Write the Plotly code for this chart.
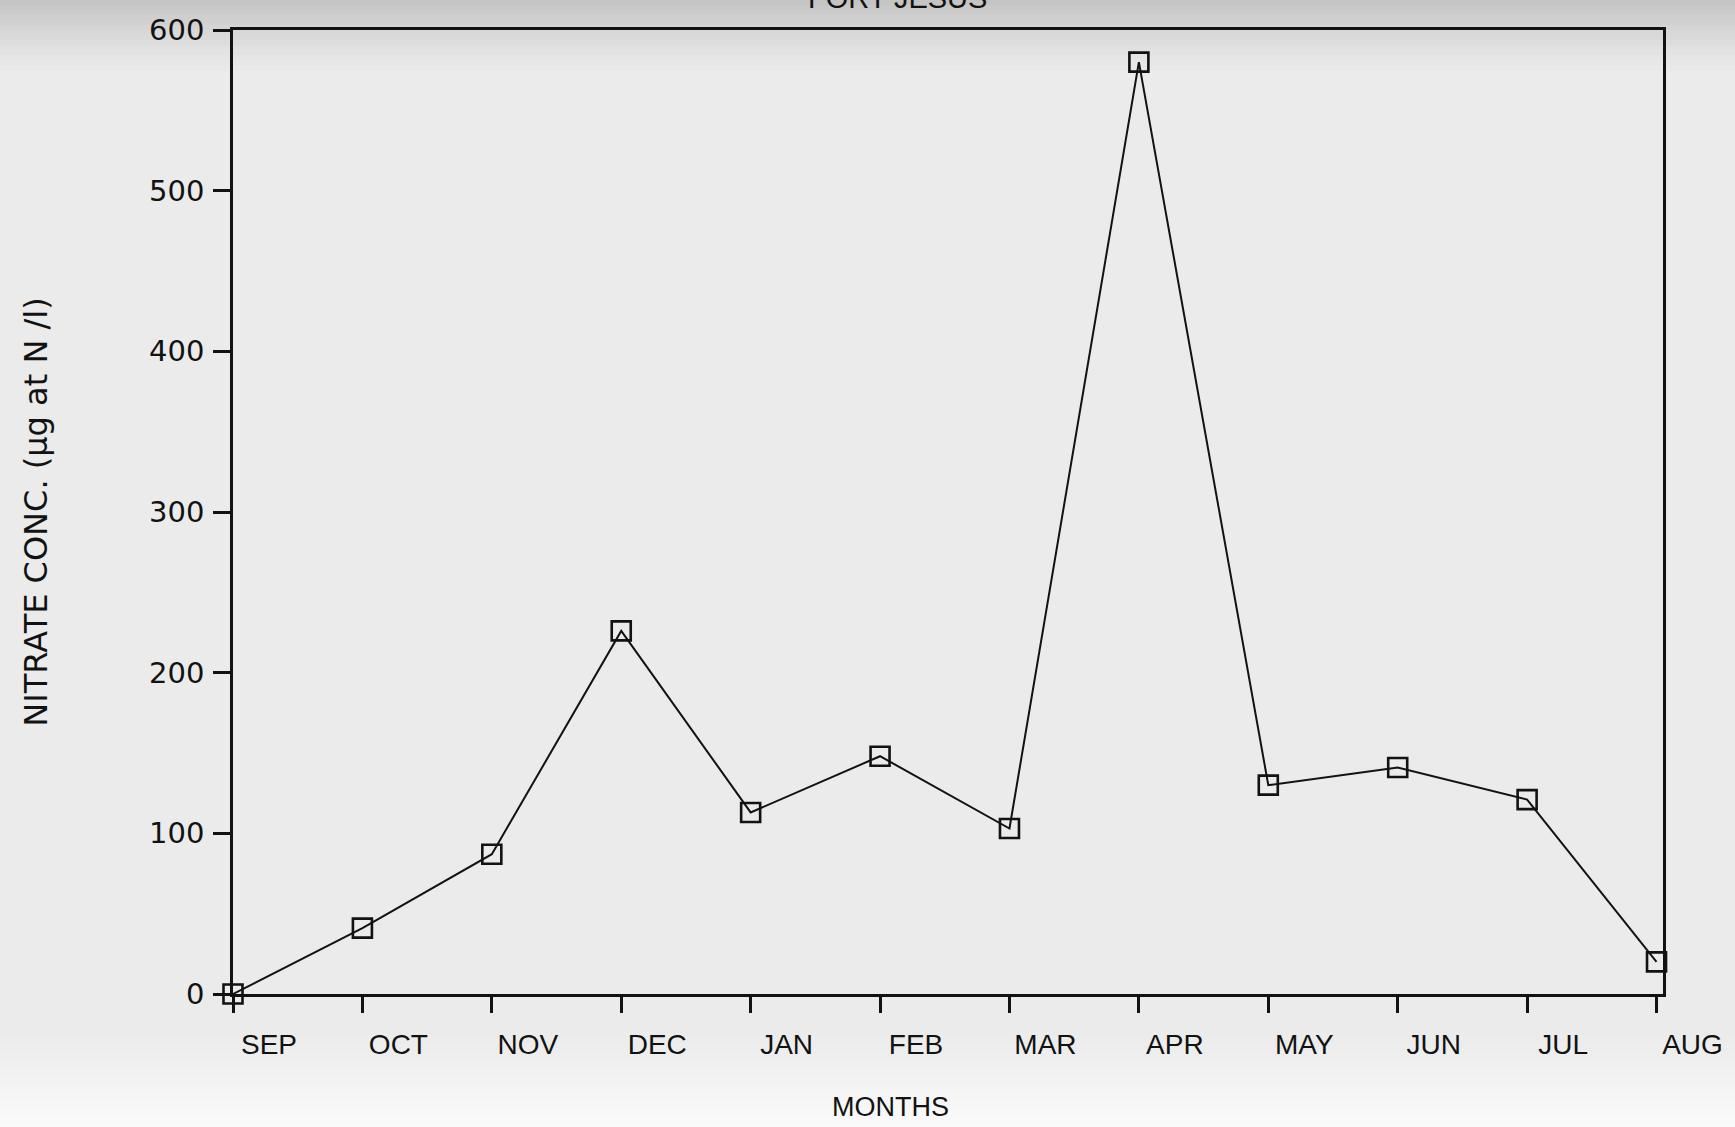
import plotly.graph_objects as go

# Monthly nitrate concentration at Fort Jesus
months = ["SEP", "OCT", "NOV", "DEC", "JAN", "FEB", "MAR", "APR", "MAY", "JUN", "JUL", "AUG"]
nitrate = [0, 41, 87, 226, 113, 148, 103, 580, 130, 141, 121, 20]
y_ticks = [0, 100, 200, 300, 400, 500, 600]

W, H = 1735, 1127
ML, MR, MT, MB = 233, 70, 30, 133
plot_h = H - MT - MB

FONT = "Liberation Sans, Arial, sans-serif"
WIDE_FONT = "DejaVu Sans, Verdana, sans-serif"
INK = "#121212"
BG = "#ebebeb"


def row_to_paper(px):
    """Convert a pixel row (from the top of the page) to paper y."""
    return (H - MB - px) / plot_h


fig = go.Figure()

fig.add_trace(
    go.Scatter(
        x=months,
        y=nitrate,
        mode="lines+markers",
        line=dict(color=INK, width=2),
        marker=dict(symbol="square-open", size=19, color=INK, line=dict(width=2.6, color=INK)),
        cliponaxis=False,
        showlegend=False,
    )
)

# Shading of the photocopied sheet: darker band along the top, paler strip at the bottom
shapes = []
top_steps = 14
for i in range(top_steps):
    y0 = i * 5
    y1 = y0 + 5
    shade = 0.22 * (1 - i / top_steps) ** 1.3
    shapes.append(dict(
        type="rect", xref="paper", yref="paper", layer="below",
        x0=-1, x1=2, y0=row_to_paper(y1), y1=row_to_paper(y0),
        fillcolor=f"rgba(60,60,60,{shade:.3f})", line=dict(width=0),
    ))
bot_steps = 12
for i in range(bot_steps):
    y0 = 1035 + i * 8
    y1 = y0 + 8 if i < bot_steps - 1 else H + 5
    light = 0.75 * (i + 1) / bot_steps
    shapes.append(dict(
        type="rect", xref="paper", yref="paper", layer="below",
        x0=-1, x1=2, y0=row_to_paper(y1), y1=row_to_paper(y0),
        fillcolor=f"rgba(255,255,255,{light:.3f})", line=dict(width=0),
    ))

fig.update_layout(
    width=W,
    height=H,
    margin=dict(l=ML, r=MR, t=MT, b=MB),
    paper_bgcolor=BG,
    plot_bgcolor="rgba(0,0,0,0)",
    font=dict(family=FONT, color=INK),
    shapes=shapes,
    annotations=[
        dict(
            text="FORT JESUS", xref="paper", yref="paper", x=0.465, y=1,
            xanchor="center", yanchor="bottom", yshift=14, showarrow=False,
            font=dict(family=FONT, size=29, color=INK),
        ),
        dict(
            text="MONTHS", xref="paper", yref="paper", x=0.46, y=0,
            xanchor="center", yanchor="middle", yshift=-113, showarrow=False,
            font=dict(family=FONT, size=27, color=INK),
        ),
    ],
)

fig.update_xaxes(
    type="category",
    categoryorder="array",
    categoryarray=months,
    range=[0, 11.05],
    showgrid=False,
    zeroline=False,
    showline=True,
    linecolor=INK,
    linewidth=2.5,
    mirror=True,
    ticks="outside",
    ticklen=16,
    tickwidth=2.5,
    tickcolor=INK,
    ticklabelshift=36,
    ticklabelstandoff=8,
    tickfont=dict(family=FONT, size=28, color=INK),
)

fig.update_yaxes(
    range=[0, 600],
    tickvals=y_ticks,
    ticktext=[str(v) for v in y_ticks],
    showgrid=False,
    zeroline=False,
    showline=True,
    linecolor=INK,
    linewidth=2.5,
    mirror=True,
    ticks="outside",
    ticklen=17,
    tickwidth=2.5,
    tickcolor=INK,
    ticklabelstandoff=3,
    tickfont=dict(family=WIDE_FONT, size=29, color=INK),
    title=dict(
        text="NITRATE CONC. (\u00b5g at N /l)",
        font=dict(family=WIDE_FONT, size=32, color=INK),
        standoff=92,
    ),
)

fig.write_html("out.html")
